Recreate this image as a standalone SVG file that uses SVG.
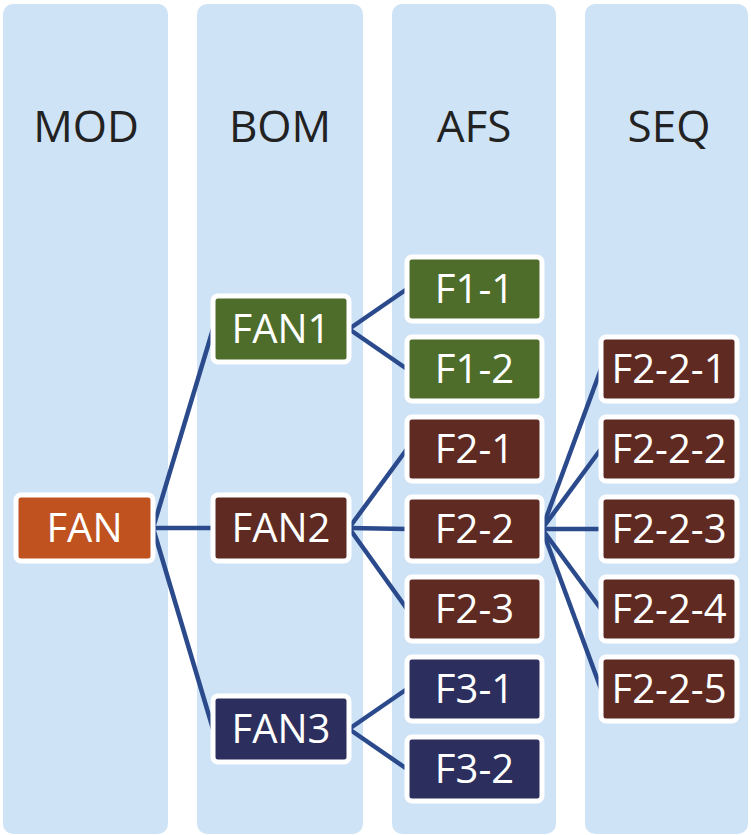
<svg xmlns="http://www.w3.org/2000/svg" width="751" height="835" viewBox="0 0 751 835">
<style>
.col{fill:#cfe3f6}
.hdr{font-family:"Open Sans",sans-serif;font-size:44px;fill:#222;text-anchor:middle}
.box{stroke:#ffffff;stroke-width:5}
.lbl{font-family:"Open Sans",sans-serif;font-size:40px;fill:#ffffff;text-anchor:middle}
.or{fill:#c0521f}
.gr{fill:#4e6d2a}
.br{fill:#5e2a22}
.nv{fill:#2c2f5e}
.ln{stroke:#2b4a8c;stroke-width:4.5;fill:none}
</style>
<rect width="751" height="835" fill="#ffffff"/>
<g id="columns">
<rect class="col" x="3" y="4" width="165" height="830" rx="10"/>
<rect class="col" x="197" y="4" width="166" height="830" rx="10"/>
<rect class="col" x="392" y="4" width="164" height="830" rx="10"/>
<rect class="col" x="585" y="4" width="163" height="830" rx="10"/>
<text class="hdr" x="86" y="142">MOD</text>
<text class="hdr" x="280" y="142">BOM</text>
<text class="hdr" x="474" y="142">AFS</text>
<text class="hdr" x="669" y="142">SEQ</text>
</g>
<g id="connectors">
<line class="ln" x1="153" y1="528" x2="213" y2="329"/>
<line class="ln" x1="153" y1="528" x2="213" y2="528"/>
<line class="ln" x1="153" y1="528" x2="213" y2="729"/>
<line class="ln" x1="349" y1="329" x2="407" y2="289"/>
<line class="ln" x1="349" y1="329" x2="407" y2="369"/>
<line class="ln" x1="349" y1="528" x2="407" y2="449"/>
<line class="ln" x1="349" y1="528" x2="407" y2="529"/>
<line class="ln" x1="349" y1="528" x2="407" y2="609"/>
<line class="ln" x1="349" y1="729" x2="407" y2="689"/>
<line class="ln" x1="349" y1="729" x2="407" y2="769"/>
<line class="ln" x1="542" y1="529" x2="601" y2="369"/>
<line class="ln" x1="542" y1="529" x2="601" y2="449"/>
<line class="ln" x1="542" y1="529" x2="601" y2="529"/>
<line class="ln" x1="542" y1="529" x2="601" y2="609"/>
<line class="ln" x1="542" y1="529" x2="601" y2="689"/>
</g>
<g id="FAN"><rect class="box or" x="16" y="495" width="137" height="66" rx="5"/><text class="lbl" x="84.5" y="542">FAN</text></g>
<g id="FAN1"><rect class="box gr" x="213" y="296" width="136" height="66" rx="5"/><text class="lbl" x="281" y="343">FAN1</text></g>
<g id="FAN2"><rect class="box br" x="213" y="495" width="136" height="66" rx="5"/><text class="lbl" x="281" y="542">FAN2</text></g>
<g id="FAN3"><rect class="box nv" x="213" y="696" width="136" height="66" rx="5"/><text class="lbl" x="281" y="743">FAN3</text></g>
<g id="F1-1"><rect class="box gr" x="407" y="257" width="135" height="64" rx="5"/><text class="lbl" x="474.5" y="303">F1-1</text></g>
<g id="F1-2"><rect class="box gr" x="407" y="337" width="135" height="64" rx="5"/><text class="lbl" x="474.5" y="383">F1-2</text></g>
<g id="F2-1"><rect class="box br" x="407" y="417" width="135" height="64" rx="5"/><text class="lbl" x="474.5" y="463">F2-1</text></g>
<g id="F2-2"><rect class="box br" x="407" y="497" width="135" height="64" rx="5"/><text class="lbl" x="474.5" y="543">F2-2</text></g>
<g id="F2-3"><rect class="box br" x="407" y="577" width="135" height="64" rx="5"/><text class="lbl" x="474.5" y="623">F2-3</text></g>
<g id="F3-1"><rect class="box nv" x="407" y="657" width="135" height="64" rx="5"/><text class="lbl" x="474.5" y="703">F3-1</text></g>
<g id="F3-2"><rect class="box nv" x="407" y="737" width="135" height="64" rx="5"/><text class="lbl" x="474.5" y="783">F3-2</text></g>
<g id="F2-2-1"><rect class="box br" x="601" y="337" width="136" height="64" rx="5"/><text class="lbl" x="669" y="383">F2-2-1</text></g>
<g id="F2-2-2"><rect class="box br" x="601" y="417" width="136" height="64" rx="5"/><text class="lbl" x="669" y="463">F2-2-2</text></g>
<g id="F2-2-3"><rect class="box br" x="601" y="497" width="136" height="64" rx="5"/><text class="lbl" x="669" y="543">F2-2-3</text></g>
<g id="F2-2-4"><rect class="box br" x="601" y="577" width="136" height="64" rx="5"/><text class="lbl" x="669" y="623">F2-2-4</text></g>
<g id="F2-2-5"><rect class="box br" x="601" y="657" width="136" height="64" rx="5"/><text class="lbl" x="669" y="703">F2-2-5</text></g>
</svg>
